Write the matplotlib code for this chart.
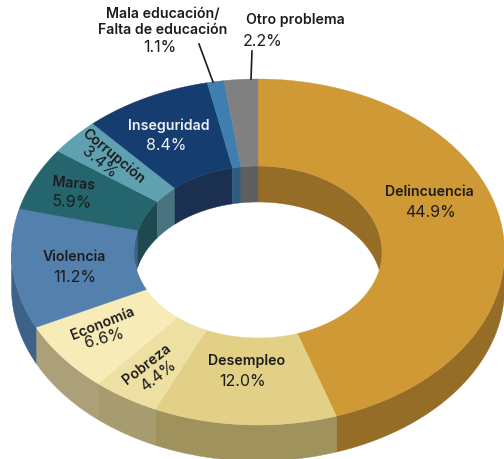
import matplotlib
matplotlib.use("Agg")
import matplotlib.pyplot as plt
from matplotlib.patches import Polygon
import numpy as np

plt.rcParams['font.family'] = ['Inter', 'DejaVu Sans']

categories = ["Delincuencia", "Desempleo", "Pobreza", "Economía", "Violencia",
              "Maras", "Corrupción", "Inseguridad", "Mala educación/\nFalta de educación",
              "Otro problema"]
values = [44.9, 12.0, 4.4, 6.6, 11.2, 5.9, 3.4, 8.4, 1.1, 2.2]

top_colors = ["#CF9A35", "#E3D087", "#EEDFA3", "#F7EBB7", "#5480AE",
              "#25666E", "#5FA0B1", "#153D70", "#3F7FB0", "#808080"]
side_colors = ["#966D26", "#A0925D", "#A79C70", "#ABA078", "#3C6288",
               "#1D4A50", "#46737E", "#1B2F50", "#2E5C80", "#5F5F5F"]

# ellipse geometry in pixels
cx, cy = 258, 253
outer_a, outer_b = 246.5, 173
inner_a, inner_b = 124, 86
depth = 36

name_size = 10.2
pct_size = 11.5
text_col = "#1C1C1C"

# (x, y, rotation) of name and of percentage
label_pos = [((429, 192, 0), (430, 213, 0)),
             ((247, 361, 0), (243, 382, 0)),
             ((147, 364, 38), (158, 376, 38)),
             ((103, 324, 22), (104, 338, 15)),
             ((74, 257, 0), (75, 278, 0)),
             ((74, 184, -5), (72, 203, -3)),
             ((113, 156, -40), (99, 163, -40)),
             ((169, 126, 0), (166, 146, 0))]


def arc(a, b, t0, t1, dy=0, n=200):
    # angles in degrees, clockwise from the top
    t = np.radians(np.linspace(t0, t1, n))
    return np.column_stack((cx + a * np.sin(t), cy - b * np.cos(t) + dy))


def visible(t0, t1, lo, hi):
    return max(t0, lo), min(t1, hi)


fig = plt.figure(figsize=(5.04, 4.6), dpi=100)
ax = fig.add_axes([0, 0, 1, 1])
ax.set_xlim(0, 504)
ax.set_ylim(460, 0)
ax.axis("off")

edges = np.concatenate(([0], np.cumsum(values))) / sum(values) * 360

# outer wall, front half only
for i in range(len(values)):
    t0, t1 = visible(edges[i], edges[i + 1], 90, 270)
    if t1 > t0:
        pts = np.vstack((arc(outer_a, outer_b, t0, t1), arc(outer_a, outer_b, t1, t0, depth)))
        ax.add_patch(Polygon(pts, fc=side_colors[i], ec=side_colors[i], lw=0.3))

# inner wall, back half only
for i in range(len(values)):
    for lo, hi in ((0, 90), (270, 360)):
        t0, t1 = visible(edges[i], edges[i + 1], lo, hi)
        if t1 > t0:
            pts = np.vstack((arc(inner_a, inner_b, t0, t1), arc(inner_a, inner_b, t1, t0, depth)))
            ax.add_patch(Polygon(pts, fc=side_colors[i], ec=side_colors[i], lw=0.3))

# top face
for i in range(len(values)):
    pts = np.vstack((arc(outer_a, outer_b, edges[i], edges[i + 1]),
                     arc(inner_a, inner_b, edges[i + 1], edges[i])))
    ax.add_patch(Polygon(pts, fc=top_colors[i], ec=top_colors[i], lw=0.3))

# labels inside the ring
for i, (name_p, pct_p) in enumerate(label_pos):
    col = "#EDF1F6" if categories[i] == "Inseguridad" else text_col
    ax.text(name_p[0], name_p[1], categories[i], rotation=name_p[2], ha="center", va="center",
            fontsize=name_size, fontweight="semibold", color=col, rotation_mode="anchor")
    ax.text(pct_p[0], pct_p[1], f"{values[i]:.1f}%", rotation=pct_p[2], ha="center", va="center",
            fontsize=pct_size, fontweight="normal", color=col, rotation_mode="anchor")

# outside labels with leaders
ax.text(162.5, 22, categories[8], ha="center", va="center", fontsize=name_size, fontweight="semibold",
        color=text_col, linespacing=1.1)
ax.text(160, 47, f"{values[8]:.1f}%", ha="center", va="center", fontsize=pct_size, color=text_col)
ax.text(295, 20, categories[9], ha="center", va="center", fontsize=name_size, fontweight="semibold", color=text_col)
ax.text(263, 41, f"{values[9]:.1f}%", ha="center", va="center", fontsize=pct_size, color=text_col)
ax.plot([199, 213], [45, 83], color=text_col, lw=1.2)
ax.plot([252, 251], [52, 80], color=text_col, lw=1.2)

fig.savefig("out.png", dpi=100)
